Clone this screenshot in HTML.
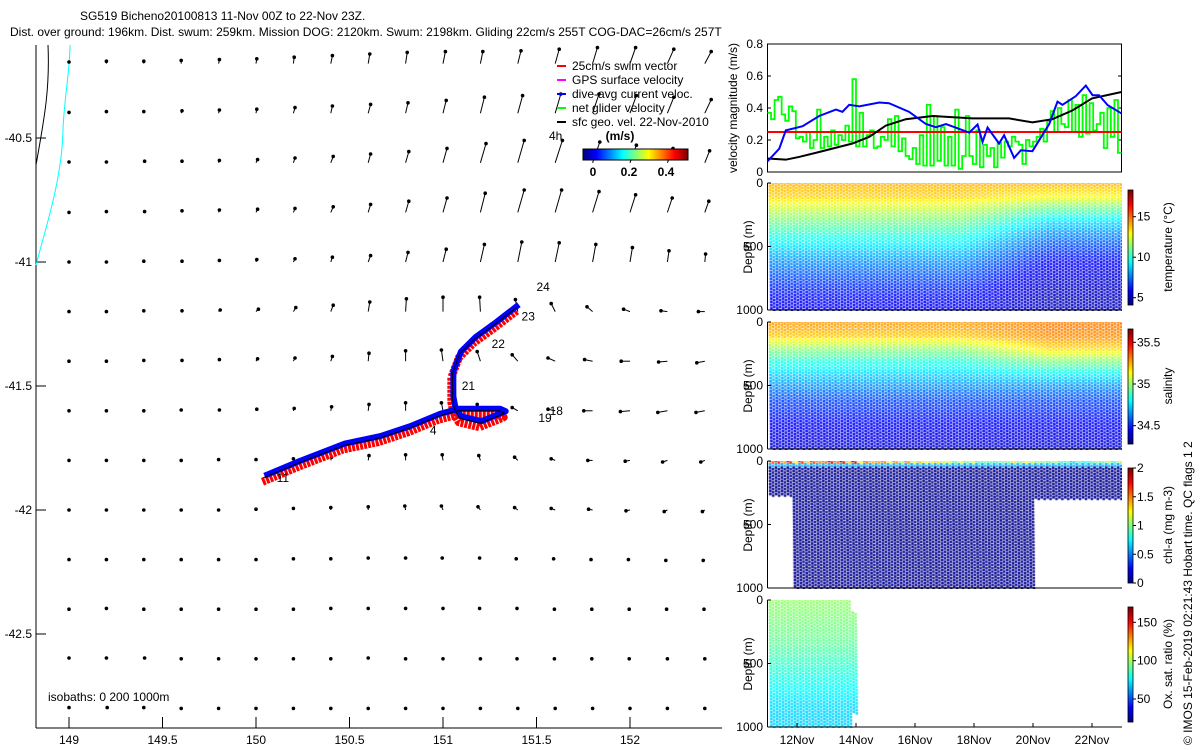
<!DOCTYPE html>
<html><head><meta charset="utf-8">
<style>
body{margin:0;background:#fff;width:1200px;height:750px;overflow:hidden;position:relative;font-family:"Liberation Sans",sans-serif}
svg{position:absolute;left:0;top:0}
canvas{position:absolute}
text{font-family:"Liberation Sans",sans-serif;font-size:12px;fill:#000}
</style></head><body>
<canvas id="cT" width="355" height="128" style="left:767px;top:183px"></canvas>
<canvas id="cS" width="355" height="128" style="left:767px;top:322px"></canvas>
<canvas id="cC" width="355" height="128" style="left:767px;top:461px"></canvas>
<canvas id="cO" width="355" height="128" style="left:767px;top:600px"></canvas>
<svg id="main" width="1200" height="750" xmlns="http://www.w3.org/2000/svg">
<text x="80" y="20">SG519 Bicheno20100813 11-Nov 00Z to 22-Nov 23Z.</text>
<text x="10" y="36">Dist. over ground: 196km. Dist. swum: 259km. Mission DOG: 2120km. Swum: 2198km. Gliding 22cm/s 255T COG-DAC=26cm/s 257T</text>
<g id="map"></g>
<g id="vel"></g>
<g id="sec"></g>
<text transform="translate(1192,745) rotate(-90)">© IMOS 15-Feb-2019 02:21:43 Hobart time. QC flags 1  2</text>
</svg>
<script>
// ---------- DATA ----------
const lonTicks=[149,149.5,150,150.5,151,151.5,152];
const latTicks=[-40.5,-41,-41.5,-42,-42.5];
const gridLons=[149,149.2,149.4,149.6,149.8,150,150.2,150.4,150.6,150.8,151,151.2,151.4,151.6,151.8,152,152.2,152.4];
const gridLats=[-40.2,-40.4,-40.6,-40.8,-41,-41.2,-41.4,-41.6,-41.8,-42,-42.2,-42.4,-42.6,-42.8];
const uRows=[
[0,0,0,0,.01,.01,.01,.02,.02,.02,.03,.03,.04,.05,.06,.07,.08,.08],
[0,0,0,.01,.01,.01,.02,.02,.03,.03,.04,.05,.06,.07,.08,.08,.08,.08],
[0,0,.01,.01,.01,.02,.02,.03,.03,.04,.05,.07,.08,.09,.09,.08,.07,.06],
[0,0,.01,.01,.01,.02,.02,.03,.03,.04,.05,.06,.08,.08,.08,.07,.06,.05],
[0,0,0,.01,.01,.01,.02,.02,.03,.03,.04,.05,.05,.05,.04,.03,.02,.01],
[0,0,0,.01,.02,.03,.03,.03,.02,.01,0,-.01,-.03,-.05,-.07,-.08,-.08,-.08],
[0,0,0,.01,.01,.02,.02,.02,.01,0,-.02,-.04,-.07,-.09,-.10,-.11,-.11,-.10],
[0,0,0,0,.01,.01,.01,.01,.01,0,-.02,-.04,-.07,-.09,-.11,-.12,-.12,-.11],
[0,0,0,0,0,0,0,.01,.01,0,-.01,-.02,-.04,-.05,-.06,-.06,-.06,-.05],
[0,0,0,0,0,0,0,0,0,-.01,-.02,-.03,-.04,-.05,-.05,-.05,-.04,-.03],
[0,0,0,0,0,0,0,0,0,0,-.01,-.01,-.02,-.02,-.02,-.02,-.02,-.02],
[0,0,0,0,0,0,0,0,0,0,0,-.01,-.01,-.01,-.01,-.01,-.01,-.01],
[0,0,.01,0,0,0,0,0,0,0,0,0,-.01,-.01,-.01,-.01,0,0],
[0,.01,0,0,0,0,0,0,0,0,0,0,0,0,0,0,0,0]];
const vRows=[
[.02,.03,.03,.04,.05,.06,.08,.10,.12,.14,.15,.15,.16,.18,.20,.20,.18,.15],
[.01,.02,.02,.03,.04,.05,.07,.09,.11,.13,.16,.20,.22,.24,.24,.22,.20,.17],
[.01,.01,.02,.02,.03,.04,.06,.08,.11,.14,.18,.24,.28,.28,.26,.22,.18,.15],
[0,.01,.01,.02,.03,.04,.05,.07,.10,.14,.18,.24,.28,.28,.26,.22,.18,.14],
[0,0,.01,.01,.02,.03,.04,.06,.08,.12,.16,.22,.25,.24,.22,.18,.14,.10],
[0,0,.01,.01,.02,.03,.05,.08,.12,.16,.18,.18,.15,.10,.06,.03,.01,0],
[0,0,.01,.01,.02,.03,.04,.06,.10,.13,.14,.12,.08,.04,.02,0,-.01,-.02],
[0,0,0,.01,.01,.02,.03,.05,.08,.10,.10,.08,.04,.02,0,-.01,-.02,-.02],
[0,0,0,0,.01,.01,.02,.04,.06,.07,.07,.06,.04,.02,0,-.01,-.02,-.02],
[0,0,0,0,0,.01,.02,.03,.04,.05,.05,.04,.03,.02,.01,-.01,-.02,-.02],
[0,0,0,0,0,0,.01,.01,.02,.02,.02,.02,.01,.01,0,0,-.01,-.01],
[0,.01,0,0,0,0,0,.01,.01,.01,.01,.01,.01,0,0,0,0,0],
[.01,.01,.01,0,0,0,0,0,.01,0,0,0,0,0,0,0,0,0],
[.01,.01,.01,0,0,0,0,0,0,0,0,0,0,0,0,0,0,0]];
const trackLon=[150.04,150.23,150.47,150.66,150.82,150.98,151.08,151.2,151.3,151.33,151.2,151.09,151.06,151.05,151.05,151.09,151.17,151.28,151.4];
const trackLat=[-41.87,-41.81,-41.74,-41.71,-41.67,-41.62,-41.6,-41.6,-41.6,-41.61,-41.65,-41.63,-41.59,-41.55,-41.45,-41.37,-41.31,-41.25,-41.18];
const dayLabels=["11","4","21","22","23","24","18","19"];
const dayLabelLon=[150.11,150.93,151.1,151.26,151.42,151.5,151.57,151.51];
const dayLabelLat=[-41.87,-41.68,-41.5,-41.33,-41.22,-41.1,-41.6,-41.63];

const velTicks=[0,0.2,0.4,0.6,0.8];
const blackDays=[0,0.62,1.07,1.75,2.88,3.45,4.01,4.69,5.59,6.95,8.19,8.98,9.66,10.34,11.0,12.0];
const blackVals=[0.084,0.077,0.094,0.125,0.178,0.22,0.29,0.33,0.35,0.335,0.335,0.31,0.33,0.385,0.46,0.50];
const blueDays=[0,0.40,0.62,1.19,1.75,2.32,2.54,2.77,3.11,3.79,4.12,4.80,5.37,5.71,6.05,6.84,7.12,7.29,7.46,7.85,8.02,8.36,8.59,8.98,9.55,9.83,10.0,10.45,10.79,11.02,11.24,11.53,12.0];
const blueVals=[0.067,0.146,0.26,0.286,0.35,0.39,0.376,0.42,0.41,0.434,0.43,0.376,0.30,0.28,0.30,0.246,0.297,0.188,0.278,0.178,0.23,0.088,0.136,0.13,0.30,0.44,0.42,0.474,0.54,0.48,0.48,0.418,0.366];
const greenVals=[0.37,0.33,0.45,0.47,0.36,0.32,0.41,0.38,0.21,0.22,0.19,0.25,0.15,0.20,0.39,0.15,0.22,0.16,0.26,0.17,0.23,0.20,0.29,0.19,0.58,0.16,0.37,0.16,0.23,0.26,0.15,0.16,0.22,0.20,0.33,0.16,0.35,0.13,0.21,0.10,0.08,0.15,0.05,0.23,0.04,0.42,0.04,0.35,0.07,0.28,0.04,0.22,0.04,0.39,0.02,0.10,0.35,0.10,0.05,0.26,0.03,0.17,0.10,0.15,0.03,0.18,0.09,0.19,0.16,0.22,0.19,0.17,0.05,0.20,0.16,0.19,0.22,0.27,0.19,0.32,0.38,0.25,0.40,0.30,0.28,0.45,0.25,0.42,0.22,0.48,0.24,0.43,0.26,0.30,0.37,0.15,0.40,0.22,0.45,0.12];
const swimSpeed=0.25;
const timeLabels=["12Nov","14Nov","16Nov","18Nov","20Nov","22Nov"];
const timeTickDays=[1,3,5,7,9,11];
const depthLevels=[0,100,200,300,400,500,600,700,800,900,1000];
const tempEarly=[14.0,13.6,12.2,11,10,9,8,7.2,6.5,6,5.6];
const tempLate=[14.0,13.0,10.8,9,7.8,6.8,6,5.5,5.2,5,4.9];
const salEarly=[35.28,35.22,35.0,34.85,34.75,34.65,34.55,34.5,34.45,34.42,34.4];
const salLate=[35.32,35.3,35.2,34.98,34.8,34.65,34.55,34.5,34.45,34.42,34.4];
const oxyProfile=[98,96,94,92,88,84,80,76,72,70,70];
const chlSurface=[1.8,1.7,1.9,1.6,1.5,1.4,1.2,1.0,1.3,1.1,0.9,1.1,1.2];
const tempTicks=[5,10,15], salTicks=[34.5,35,35.5], chlTicks=[0,0.5,1,1.5,2], oxyTicks=[50,100,150];

// ---------- helpers ----------
const NS="http://www.w3.org/2000/svg";
function mk(p,tag,attrs,txt){const e=document.createElementNS(NS,tag);for(const k in attrs)e.setAttribute(k,attrs[k]);if(txt!==undefined)e.textContent=txt;p.appendChild(e);return e;}
function jet(f){f=Math.max(0,Math.min(1,f));const r=Math.max(0,Math.min(1,1.5-Math.abs(4*f-3))),g=Math.max(0,Math.min(1,1.5-Math.abs(4*f-2))),b=Math.max(0,Math.min(1,1.5-Math.abs(4*f-1)));return `rgb(${Math.round(r*255)},${Math.round(g*255)},${Math.round(b*255)})`;}
const mx=lon=>69+(lon-149)*187;
const my=lat=>262+(-41-lat)*248;

// ---------- MAP ----------
const map=document.getElementById('map');
mk(map,'line',{x1:36,y1:45,x2:36,y2:728,stroke:'#000'});
mk(map,'line',{x1:36,y1:728,x2:722,y2:728,stroke:'#000'});
lonTicks.forEach(l=>{const x=mx(l);mk(map,'line',{x1:x,y1:728,x2:x,y2:717,stroke:'#000'});
 const tx=mk(map,'text',{x:x,y:744,'text-anchor':'middle'},String(l));});
latTicks.forEach(l=>{const y=my(l);mk(map,'line',{x1:36,y1:y,x2:46,y2:y,stroke:'#000'});
 const tx=mk(map,'text',{x:32,y:y+4,'text-anchor':'end'},String(l));});
const coast=mk(map,'path',{d:'M36,165 C44,120 50,90 48,45',fill:'none',stroke:'#000'});

const iso=mk(map,'path',{d:'M36,265 C45,230 62,180 63,130 C64,100 70,70 70,45',fill:'none',stroke:'#0ff'});

const S=80;
gridLats.forEach((lat,i)=>gridLons.forEach((lon,j)=>{
 const x=mx(lon),y=my(lat),tx=x+uRows[i][j]*S,ty=y-vRows[i][j]*S;
 const g=mk(map,'g',{});
 
 mk(g,'line',{x1:x,y1:y,x2:tx,y2:ty,stroke:'#000','stroke-width':1});
 mk(g,'circle',{cx:tx,cy:ty,r:1.8,fill:'#000'});
}));
let tp=trackLon.map((l,i)=>[mx(l),my(trackLat[i])]);
const ptsStr=(dx,dy)=>tp.map(p=>(p[0]+dx)+','+(p[1]+dy)).join(' ');
const red=mk(map,'polyline',{points:ptsStr(-1,4),fill:'none',stroke:'#f00','stroke-width':8,'stroke-dasharray':'3 1','stroke-linejoin':'round'});

const blue=mk(map,'polyline',{points:ptsStr(1,-2),fill:'none',stroke:'#00f','stroke-width':6,'stroke-linejoin':'round'});

const blk=mk(map,'polyline',{points:ptsStr(0,0),fill:'none',stroke:'#000','stroke-width':1});

dayLabels.forEach((d,i)=>{const t=mk(map,'text',{x:mx(dayLabelLon[i]),y:my(dayLabelLat[i])+4},d);});
const isoT=mk(map,'text',{x:48,y:701},'isobaths: 0   200  1000m');
const legItems=[['#f00','25cm/s swim vector'],['#f0f','GPS surface velocity'],['#00f','dive-avg current veloc.'],['#0f0','net glider velocity'],['#000','sfc geo. vel. 22-Nov-2010']];
legItems.forEach((it,i)=>{const g=mk(map,'g',{});
 const y=66+i*14;mk(g,'line',{x1:557,y1:y,x2:566,y2:y,stroke:it[0],'stroke-width':2});mk(g,'text',{x:572,y:y+4},it[1]);});
const h4=mk(map,'text',{x:549,y:140},'4h');
const ms=mk(map,'text',{x:620,y:140,'font-weight':'bold','text-anchor':'middle'},'(m/s)');
const cbg=mk(map,'g',{});
for(let i=0;i<105;i++)mk(cbg,'rect',{x:583+i,y:149,width:1.2,height:11,fill:jet(i/104)});
mk(cbg,'rect',{x:583,y:149,width:105,height:11,fill:'none',stroke:'#000'});
[[0,593],[0.2,629],[0.4,666]].forEach(a=>{mk(cbg,'text',{x:a[1],y:176,'text-anchor':'middle','font-weight':'bold'},String(a[0]));});

// ---------- VELOCITY PANEL ----------
const vel=document.getElementById('vel');
const X0=767.5,PX=29.5;
const tx_=d=>X0+d*PX;
const vy=v=>172-v*160;
mk(vel,'rect',{x:767.5,y:44,width:354,height:128,fill:'none',stroke:'#000'});
velTicks.forEach(v=>{mk(vel,'line',{x1:767.5,y1:vy(v),x2:771,y2:vy(v),stroke:'#000'});mk(vel,'line',{x1:1118,y1:vy(v),x2:1121.5,y2:vy(v),stroke:'#000'});
 const t=mk(vel,'text',{x:763,y:vy(v)+4,'text-anchor':'end'},String(v));});
const vl=mk(vel,'text',{transform:'translate(737,108) rotate(-90)','text-anchor':'middle'},'velocity magnitude (m/s)');
let gp='';greenVals.forEach((v,i)=>{const d0=i*12/greenVals.length,d1=(i+1)*12/greenVals.length;gp+=(i?'L':'M')+tx_(d0)+','+vy(v)+'L'+tx_(d1)+','+vy(v);});
const gl=mk(vel,'path',{d:gp,fill:'none',stroke:'#0f0','stroke-width':1.8});
const rl=mk(vel,'line',{x1:tx_(0),x2:tx_(12),y1:vy(swimSpeed),y2:vy(swimSpeed),stroke:'#f00','stroke-width':2});
const bl=mk(vel,'polyline',{points:blackDays.map((d,i)=>tx_(d)+','+vy(blackVals[i])).join(' '),fill:'none',stroke:'#000','stroke-width':2});
const bu=mk(vel,'polyline',{points:blueDays.map((d,i)=>tx_(d)+','+vy(blueVals[i])).join(' '),fill:'none',stroke:'#00f','stroke-width':2});

// ---------- SECTIONS ----------
const sec=document.getElementById('sec');
const panels=[
 {top:183,title:'temperature (°C)',ticks:tempTicks,min:4.1,max:18.3},
 {top:322,title:'salinity',ticks:salTicks,min:34.28,max:35.66},
 {top:461,title:'chl-a (mg m-3)',ticks:chlTicks,min:0,max:2},
 {top:600,title:'Ox. sat. ratio (%)',ticks:oxyTicks,min:20,max:170}];
panels.forEach((p,k)=>{
 const g=mk(sec,'g',{});
 const b=p.top+127;
 mk(g,'line',{x1:767.5,y1:p.top,x2:767.5,y2:b,stroke:'#000'});
 mk(g,'line',{x1:767.5,y1:b,x2:1122,y2:b,stroke:'#000'});
 [0,500,1000].forEach(d=>{const y=p.top+d/1000*127;mk(g,'line',{x1:767.5,y1:y,x2:771,y2:y,stroke:'#000'});mk(g,'text',{x:763,y:y+4,'text-anchor':'end'},String(d));});
 mk(g,'text',{transform:`translate(752,${p.top+64}) rotate(-90)`,'text-anchor':'middle'},'Depth (m)');
 if(k===3){timeTickDays.forEach((d,i)=>{mk(g,'line',{x1:tx_(d),y1:b,x2:tx_(d),y2:b-4,stroke:'#000'});mk(g,'text',{x:tx_(d),y:b+17,'text-anchor':'middle'},timeLabels[i]);});}
 const c0=p.top+7,c1=p.top+122;
 for(let i=0;i<115;i++)mk(g,'rect',{x:1128,y:c1-i-1,width:5,height:1.2,fill:jet(i/114)});
 mk(g,'rect',{x:1128,y:c0,width:5,height:115,fill:'none',stroke:'#000','stroke-width':0.8});
 p.ticks.forEach(t=>{const y=c1-(t-p.min)/(p.max-p.min)*115;mk(g,'line',{x1:1133,y1:y,x2:1136,y2:y,stroke:'#000'});mk(g,'text',{x:1137,y:y+4},String(t));});
 mk(g,'text',{transform:`translate(1172,${p.top+64}) rotate(-90)`,'text-anchor':'middle'},p.title);
});
function interp(arr,d){const i=Math.min(9,Math.floor(d/100));const f=(d-i*100)/100;return arr[i]*(1-f)+arr[i+1]*f;}
function drawSec(id,p,valFn,rangeFn){
 const ctx=document.getElementById(id).getContext('2d');
 for(let t=0.1;t<12;t+=0.2){const r=rangeFn(t);if(!r)continue;
  for(let d=r[0];d<=r[1];d+=26){const v=valFn(t,d);if(v===null)continue;ctx.fillStyle=jet((v-p.min)/(p.max-p.min));
   const y=d/1000*127;const x=t*PX+(d/1000)*1.5;
   ctx.fillRect(x-1.3,y-1.3,2.6,2.6);
   ctx.fillRect(x+1.7,y+0.4,2.4,2.4);}}
}
const mixT=t=>Math.max(0,Math.min(1,(t-6.5)/3));
drawSec('cT',panels[0],(t,d)=>{const m=mixT(t);return interp(tempEarly,d)*(1-m)+interp(tempLate,d)*m;},t=>[0,1000]);
drawSec('cS',panels[1],(t,d)=>{const m=mixT(t);return interp(salEarly,d)*(1-m)+interp(salLate,d)*m;},t=>[0,1000]);
drawSec('cC',panels[2],(t,d)=>d<20?chlSurface[Math.floor(t)]*(0.7+0.3*Math.abs(Math.sin(t*7))):(d<50?0.6:0.03),t=>t<0.8?[0,260]:(t<9.1?[0,1000]:[0,300]));
drawSec('cO',panels[3],(t,d)=>interp(oxyProfile,d),t=>t<2.9?[0,1000]:(t<3.1?[100,900]:null));
</script>
</body></html>
